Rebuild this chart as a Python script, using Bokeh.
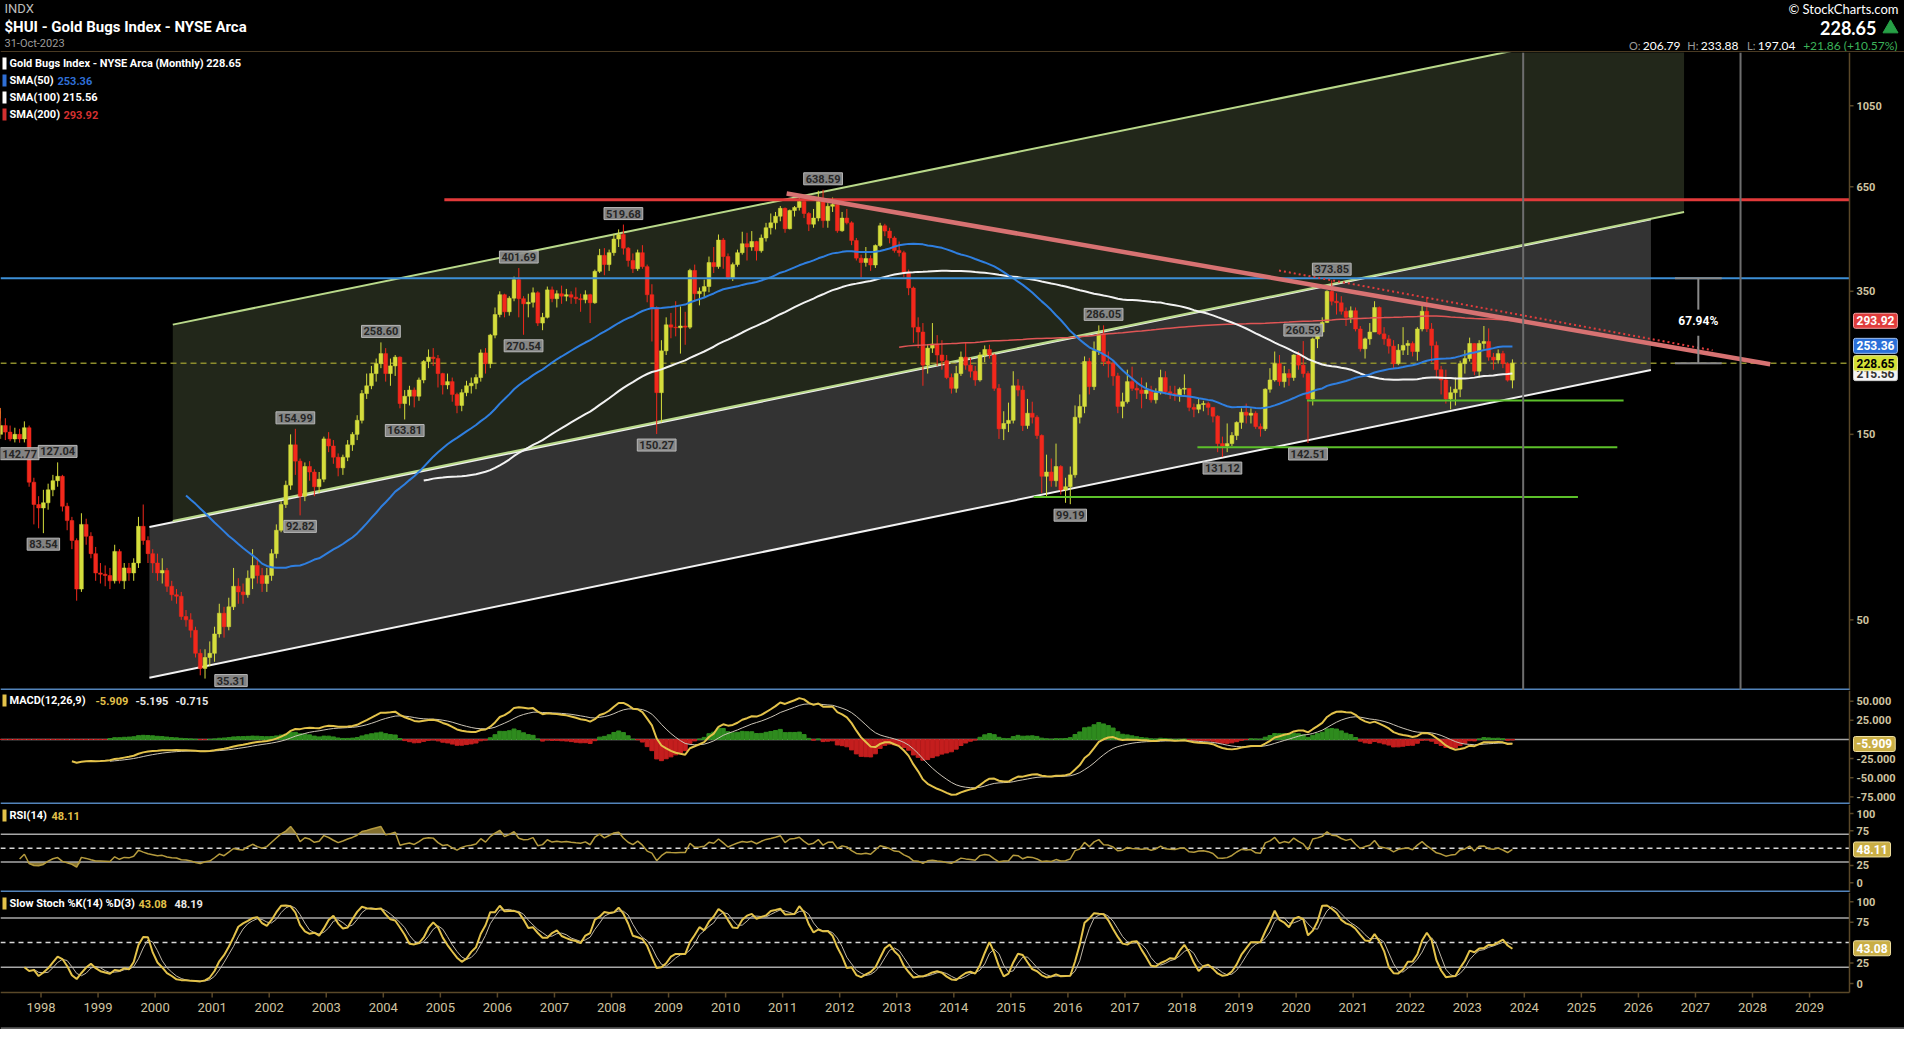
import math
import re
import numpy as np
import pandas as pd
from bokeh.plotting import figure
from bokeh.layouts import column
from bokeh.models import Range1d, Span, Label
from bokeh.embed import file_html
from bokeh.resources import INLINE
from bokeh.core.properties import value

# ---------------------------------------------------------------- data
START_YEAR = 1996
START_MONTH = 6
first_open = 170.0

closes = [
    175, 165, 172, 168, 170, 175, 165,                                  # 1996 Jun-Dec
    162, 168, 150, 158, 152, 146, 150, 146, 156, 113, 99, 97,          # 1997
    100, 108, 114, 117, 98, 90, 80, 60, 88, 82, 74, 66,                # 1998
    65.5, 65, 63, 75, 63, 68, 66, 70, 87, 80, 74, 70,                  # 1999
    66, 67, 61, 58, 57.5, 51, 50, 47, 41, 37.5, 40, 41,                # 2000
    46, 52, 48, 54, 61, 59, 58, 64, 69, 65, 62, 65,                    # 2001
    74, 85, 99, 111, 141, 128, 104, 124, 120, 110, 115, 146,           # 2002
    140, 131, 123, 131, 141, 150, 163, 191, 200, 215, 228, 242,        # 2003
    215, 225, 237, 180, 188, 195, 188, 207, 231, 237, 235, 215,        # 2004
    201, 205, 190, 178, 192, 200, 203, 210, 243, 228, 270, 305,        # 2005
    343, 310, 336, 375, 335, 325, 328, 347, 290, 300, 353, 335,        # 2006
    345, 340, 343, 338, 335, 333, 343, 327, 394, 433, 410, 440,        # 2007
    477, 490, 452, 420, 400, 440, 405, 343, 318, 192, 246, 287,        # 2008
    283, 282, 285, 283, 396, 345, 350, 360, 415, 405, 474, 430,        # 2009
    379, 410, 440, 464, 455, 470, 445, 480, 510, 525, 546, 572,        # 2010
    507, 565, 575, 596, 555, 521, 540, 596, 532, 579, 585, 501,        # 2011
    540, 525, 473, 426, 415, 425, 409, 459, 516, 500, 480, 446,        # 2012
    440, 392, 357, 283, 275, 226, 250, 256, 240, 232, 210, 197,        # 2013
    215, 237, 226, 218, 207, 240, 248, 240, 197, 155, 160, 163,        # 2014
    200, 195, 158, 170, 166, 149, 117, 120, 114, 124, 108, 110,        # 2015
    118, 166, 177, 231, 199, 246, 272, 231, 228, 212, 177, 182,        # 2016
    205, 197, 195, 191, 195, 184, 192, 210, 193, 191, 189, 196,        # 2017
    197, 176, 174, 179, 180, 176, 167, 142, 140, 142, 149, 161,        # 2018
    171, 168, 170, 157, 155, 196, 207, 228, 205, 215, 210, 240,        # 2019
    226, 215, 185, 264, 275, 291, 350, 330, 327, 311, 300, 312,        # 2020
    280, 249, 264, 275, 318, 272, 264, 253, 228, 247, 254, 257,        # 2021
    245, 280, 311, 280, 254, 220, 207, 185, 192, 196, 228, 235,        # 2022
    257, 218, 257, 260, 237, 233, 242, 228, 206.79, 228.65,           # 2023 Jan-Oct
]

highs = [
    182, 178, 176, 175, 176, 182, 178,                                  # 1996
    172, 175, 170, 162, 165, 158, 156, 155, 162, 158, 116, 104,        # 1997
    108, 112, 118, 127.04, 118, 100, 92, 81, 94, 91, 84, 77,           # 1998
    70, 69, 68, 78, 76, 70, 70, 72, 92, 99, 82, 76,                    # 1999
    74, 72, 68, 63, 60, 59, 53, 52, 48, 42, 42, 44,                    # 2000
    48, 55, 54, 57, 68, 64, 62, 67, 76, 72, 68, 68,                    # 2001
    76, 88, 101, 114, 150, 154.99, 130, 127, 128, 122, 120, 148,       # 2002
    152, 145, 134, 133, 145, 152, 168, 195, 215, 225, 235, 258.60,     # 2003
    250, 235, 240, 238, 195, 200, 198, 210, 233, 248, 250, 240,        # 2004
    216, 215, 210, 192, 196, 206, 210, 214, 248, 250, 272, 318,        # 2005
    350, 345, 340, 382, 401.69, 340, 345, 358, 350, 308, 360, 360,     # 2006
    352, 362, 355, 350, 358, 345, 352, 345, 398, 450, 452, 448,        # 2007
    492, 505, 519.68, 455, 438, 448, 460, 410, 365, 320, 262, 300,     # 2008
    308, 330, 320, 310, 400, 410, 358, 375, 430, 455, 490, 480,        # 2009
    438, 415, 448, 498, 495, 500, 472, 490, 525, 555, 560, 580,        # 2010
    575, 568, 580, 610, 605, 560, 570, 635, 638.59, 590, 610, 585,     # 2011
    560, 570, 530, 480, 435, 455, 433, 462, 525, 522, 510, 485,        # 2012
    470, 445, 398, 360, 300, 290, 256, 290, 270, 262, 240, 215,        # 2013
    225, 245, 258, 236, 225, 244, 254, 255, 242, 202, 172, 181,        # 2014
    218, 208, 200, 185, 182, 168, 150, 133, 130, 142, 125, 116,        # 2015
    124, 178, 190, 238, 236, 260, 286, 286.05, 245, 233, 216, 192,     # 2016
    220, 224, 205, 210, 204, 200, 197, 220, 218, 200, 200, 198,        # 2017
    214, 196, 180, 185, 183, 182, 176, 168, 148, 160, 152, 162,        # 2018
    175, 180, 175, 172, 160, 197, 222, 245, 240, 225, 221, 241,        # 2019
    245, 260.59, 218, 266, 285, 300, 352, 373.85, 346, 340, 318, 320,  # 2020
    318, 285, 266, 290, 330, 320, 283, 270, 262, 256, 283, 262,        # 2021
    260, 283, 322, 338, 290, 260, 225, 220, 199, 210, 232, 247,        # 2022
    266, 257, 262, 285, 281, 243, 248, 246, 230, 233.88,              # 2023
]

lows = [
    165, 158, 160, 160, 162, 166, 160,                                  # 1996
    155, 158, 148, 146, 145, 144, 143, 142.77, 143, 110, 88, 86,       # 1997
    83.54, 96, 104, 110, 95, 85, 76, 56, 59, 78, 72, 63,               # 1998
    62, 61, 60, 62, 62, 60, 63, 63, 68, 78, 70, 66,                    # 1999
    63, 62, 59, 56, 55, 50, 48, 45, 40, 36, 35.31, 38,                 # 2000
    39, 45, 45, 47, 53, 55, 55, 57, 60, 62, 59, 59,                    # 2001
    63, 72, 84, 97, 108, 118, 92.82, 101, 114, 104, 106, 113,          # 2002
    135, 126, 117, 118, 128, 136, 145, 160, 185, 196, 205, 222,        # 2003
    205, 200, 212, 175, 163.81, 178, 176, 183, 203, 222, 225, 198,     # 2004
    190, 196, 182, 170, 172, 188, 191, 196, 205, 215, 222, 265,        # 2005
    300, 300, 303, 330, 300, 270.54, 300, 318, 285, 278, 298, 328,     # 2006
    318, 325, 330, 325, 325, 310, 326, 290, 325, 390, 385, 395,        # 2007
    432, 455, 435, 405, 390, 395, 400, 328, 260, 150.27, 161, 240,     # 2008
    265, 268, 242, 255, 280, 330, 322, 338, 348, 390, 400, 400,        # 2009
    375, 372, 405, 435, 420, 445, 420, 440, 470, 490, 505, 530,        # 2010
    495, 505, 545, 565, 540, 500, 510, 530, 510, 510, 560, 495,        # 2011
    498, 520, 460, 420, 380, 405, 395, 402, 455, 485, 465, 440,        # 2012
    430, 380, 342, 258, 250, 200, 215, 243, 225, 220, 208, 191,        # 2013
    192, 212, 220, 210, 200, 205, 230, 235, 194, 146, 145, 152,        # 2014
    160, 188, 153, 155, 160, 146, 106, 103, 110, 110, 105, 100,        # 2015
    99.19, 116, 160, 170, 190, 195, 240, 225, 210, 200, 170, 165,      # 2016
    180, 194, 185, 175, 185, 181, 180, 190, 190, 185, 183, 182,        # 2017
    190, 172, 166, 170, 172, 168, 161, 135, 131.12, 135, 140, 145,     # 2018
    155, 160, 160, 155, 148, 153, 192, 205, 200, 198, 200, 206,        # 2019
    220, 210, 142.51, 178, 250, 268, 290, 322, 305, 305, 285, 290,     # 2020
    276, 245, 235, 255, 275, 270, 255, 242, 222, 226, 240, 240,        # 2021
    238, 232, 276, 275, 230, 209, 190, 180, 174, 178, 187, 215,        # 2022
    231, 213, 210, 249, 232, 220, 228, 222, 205, 197.04,              # 2023
]

# annotated swing highs / lows
pk_year = [1997, 1998, 1998, 2000, 2002, 2002, 2003, 2004, 2006, 2006, 2008, 2008, 2011, 2016, 2016, 2018, 2020, 2020, 2020]
pk_month = [8, 1, 4, 11, 6, 7, 12, 5, 5, 6, 3, 10, 9, 1, 8, 9, 2, 3, 8]
pk_price = [142.77, 83.54, 127.04, 35.31, 154.99, 92.82, 258.60, 163.81, 401.69, 270.54,
            519.68, 150.27, 638.59, 99.19, 286.05, 131.12, 260.59, 142.51, 373.85]
pk_side = ["below", "below", "above", "right", "above", "below", "above", "below", "above", "below",
           "above", "below", "above", "below", "above", "below", "above", "below", "above"]

# drawn trend channels and lines (year, price)
olive_x = [2000.31, 2026.80]
olive_top = [287.3, 1790.0]
olive_bottom = [89.8, 559.6]
gray_x = [1999.90, 2026.22]
gray_top = [86.6, 535.9]
gray_bottom = [35.5, 219.7]
resist_level = 602.0
resist_start = 2005.07
breakout_level = 378.4
trend_x = [2011.07, 2028.31]
trend_y = [624.9, 227.1]
dotted_x = [2019.70, 2027.30]
dotted_y = [395.8, 246.8]
support_level = [183.4, 138.9, 103.5]
support_x0 = [2020.19, 2018.27, 2015.40]
support_x1 = [2025.74, 2025.63, 2024.94]
vline_x = [2023.98, 2027.79]
measure_x = 2027.05
measure_cap = 0.41
measure_lo, measure_hi = 228.65, 378.4
measure_gap = [314.0, 269.0]
measure_text = "67.94%"

year_ticks = list(range(1998, 2030))
price_ticks = [50, 150, 350, 650, 1050]
macd_ticks = [50, 25, -25, -50, -75]
osc_ticks = [100, 75, 25, 0]

# ---------------------------------------------------------------- geometry / style
W = 1904
AXIS_W = 55
FRAME_W = W - AXIS_W
HEADER_H = 52
PRICE_H = 638
MACD_H = 114
RSI_H = 88
STOCH_H = 100
XAXIS_H = 37

X0, X1 = 1997.29, 2029.70
PRICE_RNG = (32.9, 1440.0)
MACD_RNG = (-85.0, 64.0)
RSI_RNG = (-14.0, 113.0)
STOCH_RNG = (-11.0, 111.3)

BG = "#000000"
AX = "#5a4828"
AXT = "#cfc4a0"
SEP = "#5384bb"
UP = "#d5dd3c"
DOWN = "#f2281c"
GOLD = "#e3c24a"
FONT = "Roboto"


def x_px(px):
    return X0 + px * (X1 - X0) / FRAME_W


def y_lin(rng, px, h):
    return rng[1] - px * (rng[1] - rng[0]) / h


def y_log(rng, px, h):
    a, b = math.log10(rng[0]), math.log10(rng[1])
    return 10 ** (b - px * (b - a) / h)


XE = x_px(W)
xr = Range1d(X0, XE)


def fig(h, yrng, log=False):
    kw = dict(width=W, height=h, x_range=xr, y_range=Range1d(*yrng),
              y_axis_location=None, x_axis_location=None,
              toolbar_location=None, output_backend="svg")
    if log:
        kw["y_axis_type"] = "log"
    p = figure(**kw)
    p.min_border = 0
    p.background_fill_color = BG
    p.border_fill_color = BG
    p.outline_line_color = None
    p.xgrid.grid_line_color = None
    p.ygrid.grid_line_color = None
    return p


def right_axis(p, y_bot, y_top, ticks, fmt):
    p.segment(x0=[X1], y0=[y_bot], x1=[X1], y1=[y_top], line_color=AX, line_width=1.5)
    p.segment(x0=[X1] * len(ticks), y0=ticks, x1=[x_px(FRAME_W + 4)] * len(ticks), y1=ticks,
              line_color=AX, line_width=1.5)
    p.text(x=[x_px(FRAME_W + 7)] * len(ticks), y=ticks, text=[fmt % t for t in ticks],
           text_font=value(FONT), text_font_size="11px", text_font_style="bold", text_color=AXT,
           text_align="left", text_baseline="middle")


def hline(p, y, color, width, dash="solid", x_start=X0):
    p.segment(x0=[x_start], y0=[y], x1=[X1], y1=[y], line_color=color, line_width=width, line_dash=dash)


def tag(p, y, text, fill, tcolor, border):
    p.add_layout(Label(x=x_px(FRAME_W + 4), y=y, text=text, text_align="left", text_baseline="middle",
                       text_font=FONT, text_font_size="12px", text_font_style="bold", text_color=tcolor,
                       background_fill_color=fill, background_fill_alpha=1.0,
                       border_line_color=border, border_line_width=1, padding=3, border_radius=2))


def legend_text(p, x_off, y, text, color):
    p.add_layout(Label(x=x_px(x_off), y=y, text=text, text_align="left", text_baseline="middle",
                       text_font=FONT, text_font_size="11px", text_font_style="bold", text_color=color))


def swatch(p, y_top, y_bot, color):
    p.quad(left=[x_px(2)], right=[x_px(6)], top=[y_top], bottom=[y_bot], fill_color=color, line_color=None)


# ---------------------------------------------------------------- derived series
n = len(closes)
c = np.array(closes, float)
opens = np.array([first_open] + list(closes[:-1]), float)
hi = np.maximum.reduce([np.array(highs, float), opens, c])
lo = np.minimum.reduce([np.array(lows, float), opens, c])
xs = np.array([START_YEAR + (START_MONTH - 1 + i + 0.5) / 12.0 for i in range(n)])
is_up = c >= opens
ccol = np.where(is_up, UP, DOWN)

sma50 = pd.Series(c).rolling(50).mean().values
sma100 = pd.Series(c).rolling(100).mean().values
sma200 = pd.Series(c).rolling(200).mean().values


def ema(arr, span):
    arr = np.asarray(arr, float)
    out = np.full(len(arr), np.nan)
    valid = np.where(~np.isnan(arr))[0]
    s = valid[0]
    out[s + span - 1] = arr[s:s + span].mean()
    k = 2.0 / (span + 1)
    for i in range(s + span, len(arr)):
        out[i] = arr[i] * k + out[i - 1] * (1 - k)
    return out


macd = ema(c, 12) - ema(c, 26)
signal = ema(macd, 9)
hist = macd - signal


def wilder_rsi(cl, per=14):
    d = np.diff(cl)
    g = np.clip(d, 0, None)
    l_ = np.clip(-d, 0, None)
    out = np.full(len(cl), np.nan)
    ag, al = g[:per].mean(), l_[:per].mean()
    out[per] = 100 - 100 / (1 + ag / al) if al > 0 else 100
    for i in range(per + 1, len(cl)):
        ag = (ag * (per - 1) + g[i - 1]) / per
        al = (al * (per - 1) + l_[i - 1]) / per
        out[i] = 100 - 100 / (1 + ag / al) if al > 0 else 100
    return out


rsi = wilder_rsi(c)
hh = pd.Series(hi).rolling(14).max()
ll = pd.Series(lo).rolling(14).min()
fastk = 100 * (pd.Series(c) - ll) / (hh - ll)
slowk = fastk.rolling(3).mean().values
slowd = pd.Series(slowk).rolling(3).mean().values

# ---------------------------------------------------------------- header
hd = figure(width=W, height=HEADER_H, x_range=Range1d(0, W), y_range=Range1d(HEADER_H, 0),
            x_axis_location=None, y_axis_location=None, toolbar_location=None, output_backend="svg")
hd.min_border = 0
hd.background_fill_color = BG
hd.border_fill_color = BG
hd.outline_line_color = None
hd.xgrid.grid_line_color = None
hd.ygrid.grid_line_color = None


def htext(x, y, s, size, color, bold=False, align="left", font=FONT):
    hd.text(x=[x], y=[y], text=[s], text_font=value(font), text_font_size=size, text_color=color,
            text_font_style=("bold" if bold else "normal"), text_align=align, text_baseline="middle")


htext(4, 8, "INDX", "13px", "#bdbdbd")
htext(4, 26, "$HUI - Gold Bugs Index - NYSE Arca", "15px", "#ffffff", bold=True)
htext(4, 43, "31-Oct-2023", "11px", "#9c9c9c")
htext(1898, 8, "\u00a9 StockCharts.com", "13px", "#ffffff", align="right", font="Lato")
htext(1876, 27, "228.65", "18px", "#ffffff", bold=True, align="right", font="Lato")
hd.scatter(x=[1890], y=[28], marker="triangle", size=15, color="#27a046")
htext(1897, 45, "+21.86 (+10.57%)", "12px", "#3cb35a", align="right", font="Lato")
htext(1795, 45, "197.04", "12px", "#ffffff", align="right", font="Lato")
htext(1755, 45, "L:", "11px", "#9a9a9a", align="right", font="Lato")
htext(1738, 45, "233.88", "12px", "#ffffff", align="right", font="Lato")
htext(1698, 45, "H:", "11px", "#9a9a9a", align="right", font="Lato")
htext(1680, 45, "206.79", "12px", "#ffffff", align="right", font="Lato")
htext(1640, 45, "O:", "11px", "#9a9a9a", align="right", font="Lato")
hd.segment(x0=[0], y0=[HEADER_H - 0.8], x1=[W], y1=[HEADER_H - 0.8], line_color="#4a3a22", line_width=1.5)

# ---------------------------------------------------------------- price panel
pp = fig(PRICE_H, PRICE_RNG, log=True)

pp.patch(x=[gray_x[0], gray_x[1], gray_x[1], gray_x[0]],
         y=[gray_top[0], gray_top[1], gray_bottom[1], gray_bottom[0]],
         fill_color="#333333", line_color=None)
pp.patch(x=[olive_x[0], olive_x[1], olive_x[1], olive_x[0]],
         y=[olive_top[0], olive_top[1], olive_bottom[1], olive_bottom[0]],
         fill_color="#22271a", line_color=None)
pp.line(gray_x, gray_top, line_color="#f2f2f2", line_width=2)
pp.line(gray_x, gray_bottom, line_color="#f2f2f2", line_width=2)
pp.line(olive_x, olive_top, line_color="#b9d98a", line_width=2)
pp.line(olive_x, olive_bottom, line_color="#b9d98a", line_width=2)

hline(pp, closes[-1], "#8c8c2c", 1.5, dash="6 4")

pp.segment(x0=xs, y0=hi, x1=xs, y1=lo, line_color=ccol, line_width=1)
pp.vbar(x=xs, width=0.8 / 12, top=np.maximum(opens, c), bottom=np.minimum(opens, c),
        fill_color=ccol, line_color=ccol, line_width=0.5)

pp.line(xs, sma200, line_color="#e05555", line_width=1.5)
pp.line(xs, sma100, line_color="#f2f2f2", line_width=2)
pp.line(xs, sma50, line_color="#2f7fe0", line_width=2)

hline(pp, resist_level, "#e23a3a", 3, x_start=resist_start)
hline(pp, breakout_level, "#3d8fd6", 2)
pp.line(trend_x, trend_y, line_color="#d77272", line_width=4.5)
pp.line(dotted_x, dotted_y, line_color="#e23c3c", line_width=2, line_dash="2 3")
pp.segment(x0=support_x0, y0=support_level, x1=support_x1, y1=support_level, line_color="#5cc02a", line_width=2)
for vx in vline_x:
    pp.add_layout(Span(location=vx, dimension="height", line_color="#6e6e6e", line_width=2))

# measurement tool
pp.segment(x0=[measure_x - measure_cap, measure_x - measure_cap, measure_x, measure_x],
           y0=[measure_hi, measure_lo, measure_hi, measure_gap[1]],
           x1=[measure_x + measure_cap, measure_x + measure_cap, measure_x, measure_x],
           y1=[measure_hi, measure_lo, measure_gap[0], measure_lo],
           line_color="#8a8a8a", line_width=2)
pp.add_layout(Label(x=measure_x, y=math.sqrt(measure_lo * measure_hi), text=measure_text,
                    text_align="center", text_baseline="middle", text_font=FONT, text_font_size="12px",
                    text_font_style="bold", text_color="#ffffff"))

# swing labels
for yr, mo, prc, side in zip(pk_year, pk_month, pk_price, pk_side):
    xo, yo = {"above": (0, 11), "below": (0, -11), "right": (26, -2)}[side]
    pp.add_layout(Label(x=yr + (mo - 0.5) / 12.0, y=prc, x_offset=xo, y_offset=yo, text="%.2f" % prc,
                        text_align="center", text_baseline="middle", text_font=FONT, text_font_size="11px",
                        text_font_style="bold", text_color="#262626", background_fill_color="#8e8e8e",
                        background_fill_alpha=0.92, border_line_color="#b8b8b8", border_line_width=1,
                        padding=2))

# legend
rows = [11, 28, 45, 62]
sw_cols = ["#ffffff", "#2f6fd6", "#ffffff", "#d43030"]
for r, sc in zip(rows, sw_cols):
    swatch(pp, y_log(PRICE_RNG, r - 6, PRICE_H), y_log(PRICE_RNG, r + 6, PRICE_H), sc)
legend_text(pp, 9, y_log(PRICE_RNG, rows[0], PRICE_H), "Gold Bugs Index - NYSE Arca (Monthly) 228.65", "#ffffff")
legend_text(pp, 9, y_log(PRICE_RNG, rows[1], PRICE_H), "SMA(50)", "#ffffff")
legend_text(pp, 57, y_log(PRICE_RNG, rows[1], PRICE_H), "%.2f" % 253.36, "#2f6fd6")
legend_text(pp, 9, y_log(PRICE_RNG, rows[2], PRICE_H), "SMA(100) 215.56", "#ffffff")
legend_text(pp, 9, y_log(PRICE_RNG, rows[3], PRICE_H), "SMA(200)", "#ffffff")
legend_text(pp, 63, y_log(PRICE_RNG, rows[3], PRICE_H), "%.2f" % 293.92, "#d43030")

right_axis(pp, PRICE_RNG[0], PRICE_RNG[1], price_ticks, "%d")
tag(pp, 293.92, "293.92", "#e03c3c", "#ffffff", "#f4a0a0")
tag(pp, 253.36, "253.36", "#2a6fd8", "#ffffff", "#a0c0f0")
tag(pp, 215.56, "215.56", "#f5f5f5", "#333333", "#cccccc")
tag(pp, 228.65, "228.65", "#d4e036", "#000000", "#f0f0a0")
hline(pp, y_log(PRICE_RNG, PRICE_H - 1, PRICE_H), SEP, 2)

# ---------------------------------------------------------------- MACD panel
pm = fig(MACD_H, MACD_RNG)
hline(pm, 0, "#a6a6a6", 1.5)
hcol = np.where(hist >= 0, "#2e8b1e", "#c41e1e")
pm.vbar(x=xs, width=0.85 / 12, top=np.nan_to_num(hist), bottom=0, fill_color=hcol, line_color=hcol)
pm.line(xs, signal, line_color="#cbc4b6", line_width=1)
pm.line(xs, macd, line_color=GOLD, line_width=2)
swatch(pm, y_lin(MACD_RNG, 4, MACD_H), y_lin(MACD_RNG, 16, MACD_H), GOLD)
ym = y_lin(MACD_RNG, 10, MACD_H)
legend_text(pm, 9, ym, "MACD(12,26,9)", "#ffffff")
legend_text(pm, 95, ym, "-5.909", GOLD)
legend_text(pm, 135, ym, "-5.195", "#e8e8e8")
legend_text(pm, 175, ym, "-0.715", "#e8e8e8")
right_axis(pm, MACD_RNG[0], MACD_RNG[1], macd_ticks, "%.3f")
tag(pm, -5.909, "-5.909", "#c9ae45", "#ffffff", "#f0e0a0")
hline(pm, y_lin(MACD_RNG, MACD_H - 1, MACD_H), SEP, 2)

# ---------------------------------------------------------------- RSI panel
pr_ = fig(RSI_H, RSI_RNG)
rsi_hi = np.where(np.isnan(rsi), np.nan, np.maximum(rsi, 70))
rsi_lo = np.where(np.isnan(rsi), np.nan, np.minimum(rsi, 30))
pr_.varea(x=xs, y1=70, y2=rsi_hi, fill_color="#8a7631", fill_alpha=0.95)
pr_.varea(x=xs, y1=rsi_lo, y2=30, fill_color="#8a7631", fill_alpha=0.95)
hline(pr_, 70, "#a8a8a8", 1.5)
hline(pr_, 30, "#a8a8a8", 1.5)
hline(pr_, 50, "#d6d6d6", 1.5, dash="5 4")
pr_.line(xs, rsi, line_color="#b59b3e", line_width=1.5)
swatch(pr_, y_lin(RSI_RNG, 5, RSI_H), y_lin(RSI_RNG, 17, RSI_H), GOLD)
yrs = y_lin(RSI_RNG, 11, RSI_H)
legend_text(pr_, 9, yrs, "RSI(14)", "#ffffff")
legend_text(pr_, 51, yrs, "48.11", GOLD)
right_axis(pr_, RSI_RNG[0], RSI_RNG[1], osc_ticks, "%d")
tag(pr_, 48.11, "48.11", "#c9ae45", "#ffffff", "#f0e0a0")
hline(pr_, y_lin(RSI_RNG, RSI_H - 1, RSI_H), SEP, 2)

# ---------------------------------------------------------------- Slow stochastic panel (+ x axis strip)
unit = (STOCH_RNG[1] - STOCH_RNG[0]) / STOCH_H
STOCH_FULL = (STOCH_RNG[0] - XAXIS_H * unit, STOCH_RNG[1])
ps = fig(STOCH_H + XAXIS_H, STOCH_FULL)
hline(ps, 80, "#a8a8a8", 1.5)
hline(ps, 20, "#a8a8a8", 1.5)
hline(ps, 50, "#d6d6d6", 1.5, dash="5 4")
ps.line(xs, slowd, line_color="#bdb5a6", line_width=1)
ps.line(xs, slowk, line_color=GOLD, line_width=2)
swatch(ps, y_lin(STOCH_RNG, 5, STOCH_H), y_lin(STOCH_RNG, 17, STOCH_H), GOLD)
yst = y_lin(STOCH_RNG, 11, STOCH_H)
legend_text(ps, 9, yst, "Slow Stoch %K(14) %D(3)", "#ffffff")
legend_text(ps, 138, yst, "43.08", GOLD)
legend_text(ps, 174, yst, "48.19", "#e8e8e8")
right_axis(ps, STOCH_RNG[0], STOCH_RNG[1], osc_ticks, "%d")
tag(ps, 43.08, "43.08", "#c9ae45", "#ffffff", "#f0e0a0")

# bottom time axis
y_axis_line = STOCH_RNG[0]
hline(ps, y_axis_line, AX, 1.5)
ps.segment(x0=year_ticks, y0=[y_axis_line] * len(year_ticks), x1=year_ticks,
           y1=[y_axis_line - 5 * unit] * len(year_ticks), line_color=AX, line_width=1.5)
ps.text(x=year_ticks, y=[y_axis_line - 15 * unit] * len(year_ticks), text=[str(t) for t in year_ticks],
        text_font=value(FONT), text_font_size="13px", text_color=AXT, text_align="center",
        text_baseline="middle")
ps.segment(x0=[X0], y0=[STOCH_FULL[0] + 1.2 * unit], x1=[XE], y1=[STOCH_FULL[0] + 1.2 * unit],
           line_color="#5e5e5e", line_width=2)

layout = column(hd, pp, pm, pr_, ps, spacing=0)
layout.styles = {"background-color": "#000000"}

html = file_html(layout, INLINE, title="$HUI - Gold Bugs Index")
html = re.sub(r"<body([^>]*)>", r'<body\1 style="background-color:#000000;">', html, count=1)
open("out.html", "w").write(html)
